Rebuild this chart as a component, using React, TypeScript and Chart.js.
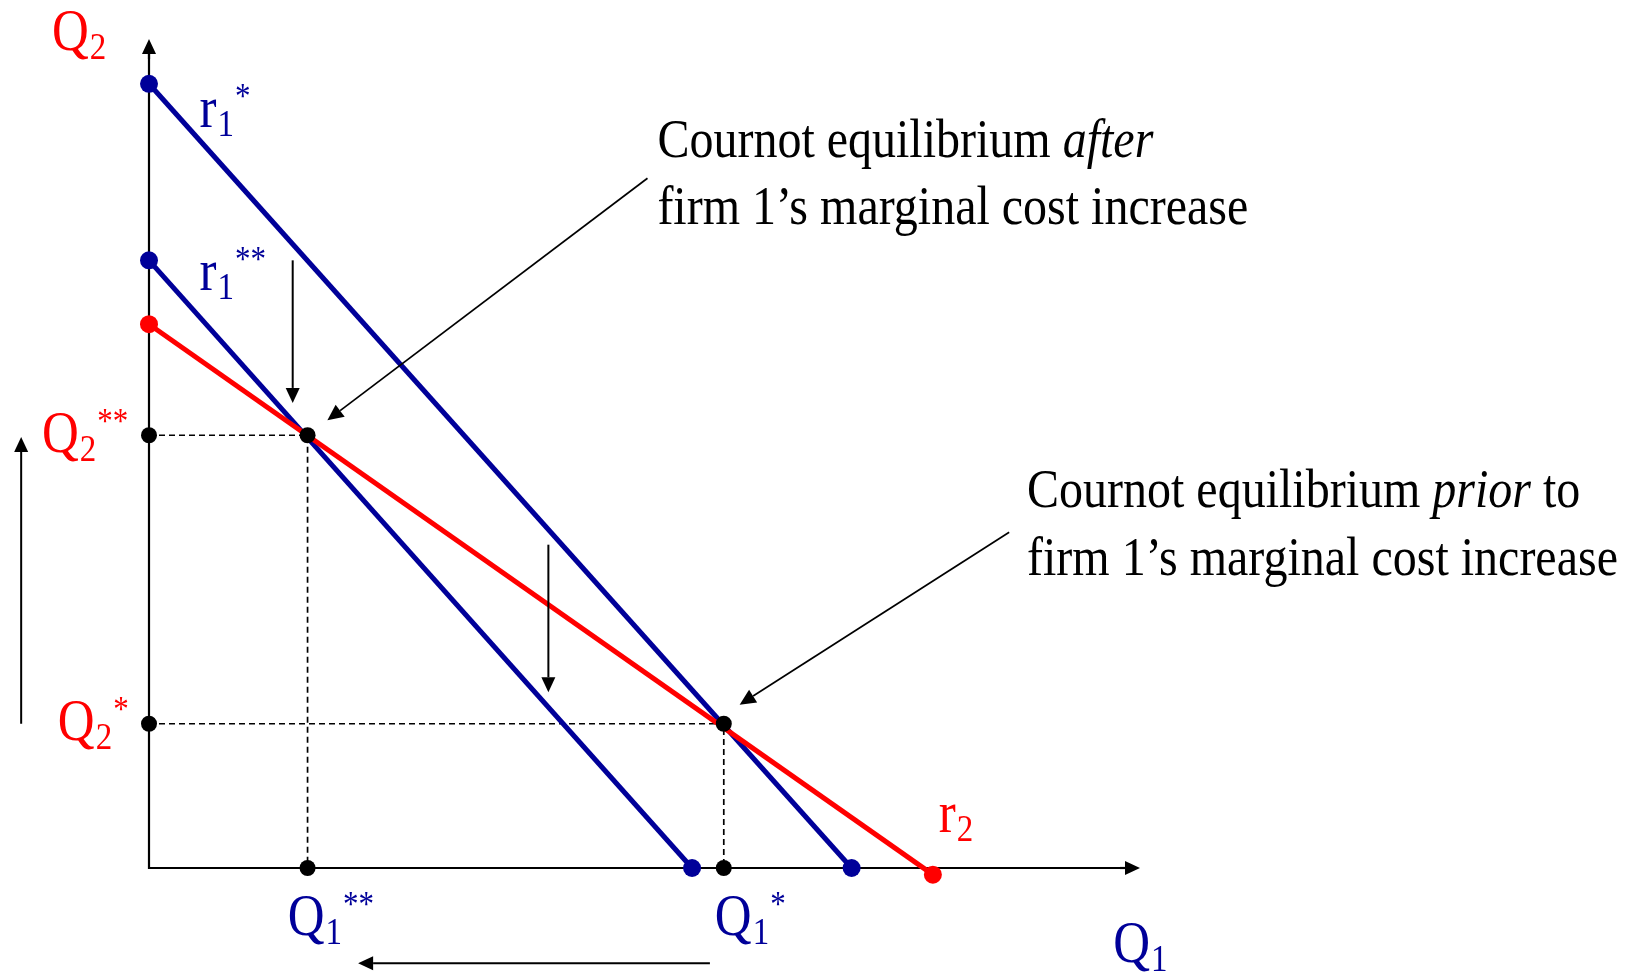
import React, { useEffect, useRef } from "react";
import { Chart, registerables } from "chart.js";

Chart.register(...registerables);

const NAVY = "#000099";
const RED = "#ff0000";
const BLACK = "#000000";

// Reaction curves: endpoints (Q1, Q2)
const r1StarQ1 = [0, 70.9];
const r1StarQ2 = [94.6, 0];
const r1DblQ1 = [0, 54.8];
const r1DblQ2 = [73.3, 0];
const r2Q1 = [0, 79.1];
const r2Q2 = [65.6, -0.8];

// Equilibria (Q1, Q2)
const eqAfterQ1 = 16.0;
const eqAfterQ2 = 52.2;
const eqPriorQ1 = 58.0;
const eqPriorQ2 = 17.4;

// Axis range
const axisMax = 100;

// Shift arrows [fromQ1, fromQ2, toQ1, toQ2]
const shiftArrows = [
  [14.5, 73.3, 14.5, 56.1],
  [40.3, 39.0, 40.3, 21.2],
  [-12.9, 17.4, -12.9, 52.0],
  [56.6, -11.5, 21.1, -11.5],
];
const pointerArrows = [
  [50.3, 83.2, 18.0, 54.0],
  [86.8, 40.5, 59.6, 19.7],
];

// Labels: base, subscript, superscript, colour, anchor (Q1, Q2)
const labelBase = ["Q", "r", "r", "Q", "Q", "Q", "Q", "r", "Q"];
const labelSub = ["2", "1", "1", "2", "2", "1", "1", "2", "1"];
const labelSup = ["", "*", "**", "**", "*", "**", "*", "", ""];
const labelColor = [RED, NAVY, NAVY, RED, RED, NAVY, NAVY, RED, NAVY];
const labelQ1 = [-9.8, 5.1, 5.1, -10.8, -9.2, 14.0, 57.1, 79.7, 97.3];
const labelQ2 = [98.7, 89.4, 69.7, 50.2, 15.4, -8.1, -8.1, 4.3, -11.3];

// Notes
const noteAfterLines = [
  [["Cournot equilibrium ", false], ["after", true]],
  [["firm 1\u2019s marginal cost increase", false]],
];
const notePriorLines = [
  [["Cournot equilibrium ", false], ["prior", true], [" to", false]],
  [["firm 1\u2019s marginal cost increase", false]],
];
const noteAfterPos = [51.3, 85.8, 77.7];
const notePriorPos = [88.6, 43.5, 35.3];

const SERIF = '"Liberation Serif", "Times New Roman", serif';
const STRETCH = 1.15;

function pts(xs: number[], ys: number[]) {
  return xs.map((x, i) => ({ x, y: ys[i] }));
}

function drawText(ctx: CanvasRenderingContext2D, s: string, x: number, y: number, font: string, color: string) {
  ctx.save();
  ctx.font = font;
  const w = ctx.measureText(s).width;
  ctx.translate(x, y);
  ctx.scale(1, STRETCH);
  ctx.fillStyle = color;
  ctx.textBaseline = "alphabetic";
  ctx.textAlign = "left";
  ctx.fillText(s, 0, 0);
  ctx.restore();
  return w;
}

function arrow(ctx: CanvasRenderingContext2D, x1: number, y1: number, x2: number, y2: number, len = 15, half = 7, lw = 2) {
  const a = Math.atan2(y2 - y1, x2 - x1);
  const bx = x2 - len * Math.cos(a);
  const by = y2 - len * Math.sin(a);
  ctx.save();
  ctx.strokeStyle = BLACK;
  ctx.fillStyle = BLACK;
  ctx.lineWidth = lw;
  ctx.beginPath();
  ctx.moveTo(x1, y1);
  ctx.lineTo(bx, by);
  ctx.stroke();
  ctx.beginPath();
  ctx.moveTo(x2, y2);
  ctx.lineTo(bx + half * Math.sin(a), by - half * Math.cos(a));
  ctx.lineTo(bx - half * Math.sin(a), by + half * Math.cos(a));
  ctx.closePath();
  ctx.fill();
  ctx.restore();
}

const decorPlugin = {
  id: "decor",
  beforeDatasetsDraw(chart: any) {
    const ctx = chart.ctx as CanvasRenderingContext2D;
    const xs = chart.scales.x;
    const ys = chart.scales.y;
    const px = (v: number) => xs.getPixelForValue(v);
    const py = (v: number) => ys.getPixelForValue(v);
    ctx.save();
    ctx.strokeStyle = BLACK;
    ctx.lineWidth = 2.2;
    ctx.beginPath();
    ctx.moveTo(px(0) - 1, py(0));
    ctx.lineTo(px(axisMax) - 14, py(0));
    ctx.moveTo(px(0), py(0) + 1);
    ctx.lineTo(px(0), py(axisMax) + 14);
    ctx.stroke();
    ctx.restore();
    arrow(ctx, px(axisMax) - 20, py(0), px(axisMax), py(0), 15, 7, 2.2);
    arrow(ctx, px(0), py(axisMax) + 20, px(0), py(axisMax), 15, 7, 2.2);
  },
  afterDatasetsDraw(chart: any) {
    const ctx = chart.ctx as CanvasRenderingContext2D;
    const xs = chart.scales.x;
    const ys = chart.scales.y;
    const px = (v: number) => xs.getPixelForValue(v);
    const py = (v: number) => ys.getPixelForValue(v);

    shiftArrows.forEach((a) => arrow(ctx, px(a[0]), py(a[1]), px(a[2]), py(a[3]), 15, 7, 2));
    pointerArrows.forEach((a) => arrow(ctx, px(a[0]), py(a[1]), px(a[2]), py(a[3]), 16, 7.5, 1.7));

    labelBase.forEach((b, i) => {
      let x = px(labelQ1[i]);
      const y = py(labelQ2[i]);
      const c = labelColor[i];
      x += drawText(ctx, b, x, y, `51px ${SERIF}`, c);
      x += drawText(ctx, labelSub[i], x + 1, y + 9, `33px ${SERIF}`, c) + 2;
      if (labelSup[i]) drawText(ctx, labelSup[i], x, y - 19, `31px ${SERIF}`, c);
    });

    const drawNote = (lines: any[], pos: number[]) => {
      lines.forEach((segs: any[], li: number) => {
        let x = px(pos[0]);
        const y = py(pos[li + 1]);
        segs.forEach(([t, it]: [string, boolean]) => {
          x += drawText(ctx, t, x, y, `${it ? "italic " : ""}48px ${SERIF}`, BLACK);
        });
      });
    };
    drawNote(noteAfterLines, noteAfterPos);
    drawNote(notePriorLines, notePriorPos);
  },
};

export default function App() {
  const ref = useRef<HTMLCanvasElement | null>(null);
  useEffect(() => {
    if (!ref.current) return;
    const lineDs = (data: any[], color: string) => ({
      type: "scatter" as const,
      data,
      showLine: true,
      borderColor: color,
      borderWidth: 5,
      pointRadius: 9,
      pointBackgroundColor: color,
      pointBorderWidth: 0,
      pointHoverRadius: 9,
      clip: false as any,
    });
    const dashDs = (data: any[]) => ({
      type: "scatter" as const,
      data,
      showLine: true,
      borderColor: BLACK,
      borderWidth: 1.7,
      borderDash: [6, 4],
      pointRadius: 0,
      clip: false as any,
    });
    const chart = new Chart(ref.current, {
      type: "scatter",
      data: {
        datasets: [
          {
            data: [
              { x: eqAfterQ1, y: eqAfterQ2 },
              { x: eqPriorQ1, y: eqPriorQ2 },
              { x: 0, y: eqAfterQ2 },
              { x: 0, y: eqPriorQ2 },
              { x: eqAfterQ1, y: 0 },
              { x: eqPriorQ1, y: 0 },
            ],
            pointRadius: 8,
            pointBackgroundColor: BLACK,
            pointBorderWidth: 0,
            showLine: false,
            clip: false as any,
          },
          lineDs(pts(r2Q1, r2Q2), RED),
          lineDs(pts(r1StarQ1, r1StarQ2), NAVY),
          lineDs(pts(r1DblQ1, r1DblQ2), NAVY),
          dashDs([{ x: 0, y: eqAfterQ2 }, { x: eqAfterQ1, y: eqAfterQ2 }, { x: eqAfterQ1, y: 0 }]),
          dashDs([{ x: 0, y: eqPriorQ2 }, { x: eqPriorQ1, y: eqPriorQ2 }, { x: eqPriorQ1, y: 0 }]),
        ] as any,
      },
      options: {
        animation: false,
        responsive: true,
        maintainAspectRatio: false,
        layout: { padding: { left: 149, right: 504, top: 39, bottom: 104 } },
        plugins: { legend: { display: false }, tooltip: { enabled: false }, title: { display: false } },
        events: [],
        scales: {
          x: { type: "linear", min: 0, max: axisMax, display: false },
          y: { type: "linear", min: 0, max: axisMax, display: false },
        },
      },
      plugins: [decorPlugin],
    });
    return () => chart.destroy();
  }, []);
  return (
    <div style={{ position: "fixed", left: 0, top: 0, width: 1644, height: 972, background: "#fff" }}>
      <canvas ref={ref} />
    </div>
  );
}
